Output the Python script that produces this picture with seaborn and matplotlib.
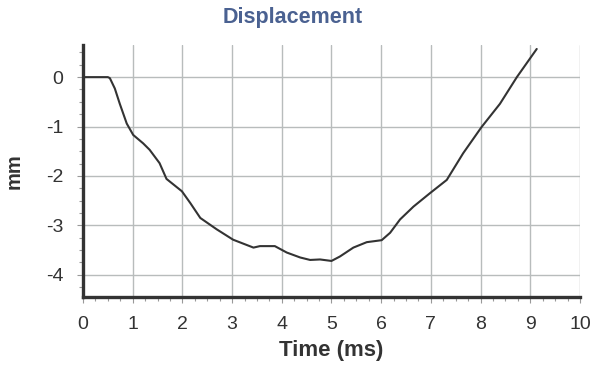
import matplotlib.pyplot as plt
import pandas as pd
import seaborn as sns
from matplotlib.ticker import MultipleLocator

# displacement trace
time_ms = [0.0, 0.3, 0.5, 0.54, 0.64, 0.74, 0.88, 1.01, 1.21, 1.34, 1.54, 1.68,
           1.99, 2.16, 2.36, 2.69, 3.02, 3.43, 3.56, 3.86, 4.10, 4.37, 4.57,
           4.77, 5.0, 5.17, 5.44, 5.71, 6.01, 6.18, 6.38, 6.65, 6.98, 7.32,
           7.65, 8.02, 8.39, 8.73, 9.13]
disp_mm = [0.0, 0.0, 0.0, -0.02, -0.23, -0.54, -0.94, -1.17, -1.34, -1.47, -1.74,
           -2.06, -2.31, -2.55, -2.85, -3.08, -3.29, -3.45, -3.42, -3.42, -3.55,
           -3.65, -3.70, -3.69, -3.72, -3.63, -3.45, -3.34, -3.30, -3.15, -2.88,
           -2.62, -2.35, -2.08, -1.54, -1.01, -0.54, 0.0, 0.57]

x_ticks = list(range(0, 11))
y_ticks = [0, -1, -2, -3, -4]

df = pd.DataFrame({"Time (ms)": time_ms, "mm": disp_mm})

sns.set_style("white")
plt.rcParams["font.family"] = ["Liberation Sans", "DejaVu Sans"]
plt.rcParams["axes.unicode_minus"] = False

fig = plt.figure(figsize=(5.99, 3.66), dpi=100)
ax = fig.add_axes([0.1386, 0.1885, 0.8296, 0.6885])

sns.lineplot(data=df, x="Time (ms)", y="mm", color="#333333", linewidth=1.5, ax=ax)

ax.set_xlim(0, 10)
ax.set_ylim(-4.45, 0.65)
ax.set_xticks(x_ticks)
ax.set_yticks(y_ticks)
ax.xaxis.set_minor_locator(MultipleLocator(0.25))
ax.yaxis.set_minor_locator(MultipleLocator(0.25))
ax.grid(True, which="major", color="#b8bcbc", linewidth=1.0)
ax.set_axisbelow(True)

for side in ["top", "right"]:
    ax.spines[side].set_visible(False)
for side in ["left", "bottom"]:
    ax.spines[side].set_color("#333333")
    ax.spines[side].set_linewidth(2.4)

ax.tick_params(which="major", length=4, width=0.8, color="#999999",
               labelsize=14, labelcolor="#333333", pad=10, bottom=True, left=True)
ax.tick_params(which="minor", length=3, width=0.8, color="#999999",
               bottom=True, left=True)

ax.set_xlabel("Time (ms)", fontsize=16, fontweight="bold", color="#333333", labelpad=5)
ax.set_ylabel("mm", fontsize=14.5, fontweight="bold", color="#333333", labelpad=16)
fig.text(293 / 599, 1 - 17 / 366, "Displacement", fontsize=15.5, fontweight="bold",
         color="#4a6191", ha="center", va="center")

fig.savefig("out.png", dpi=100)
plt.close(fig)
